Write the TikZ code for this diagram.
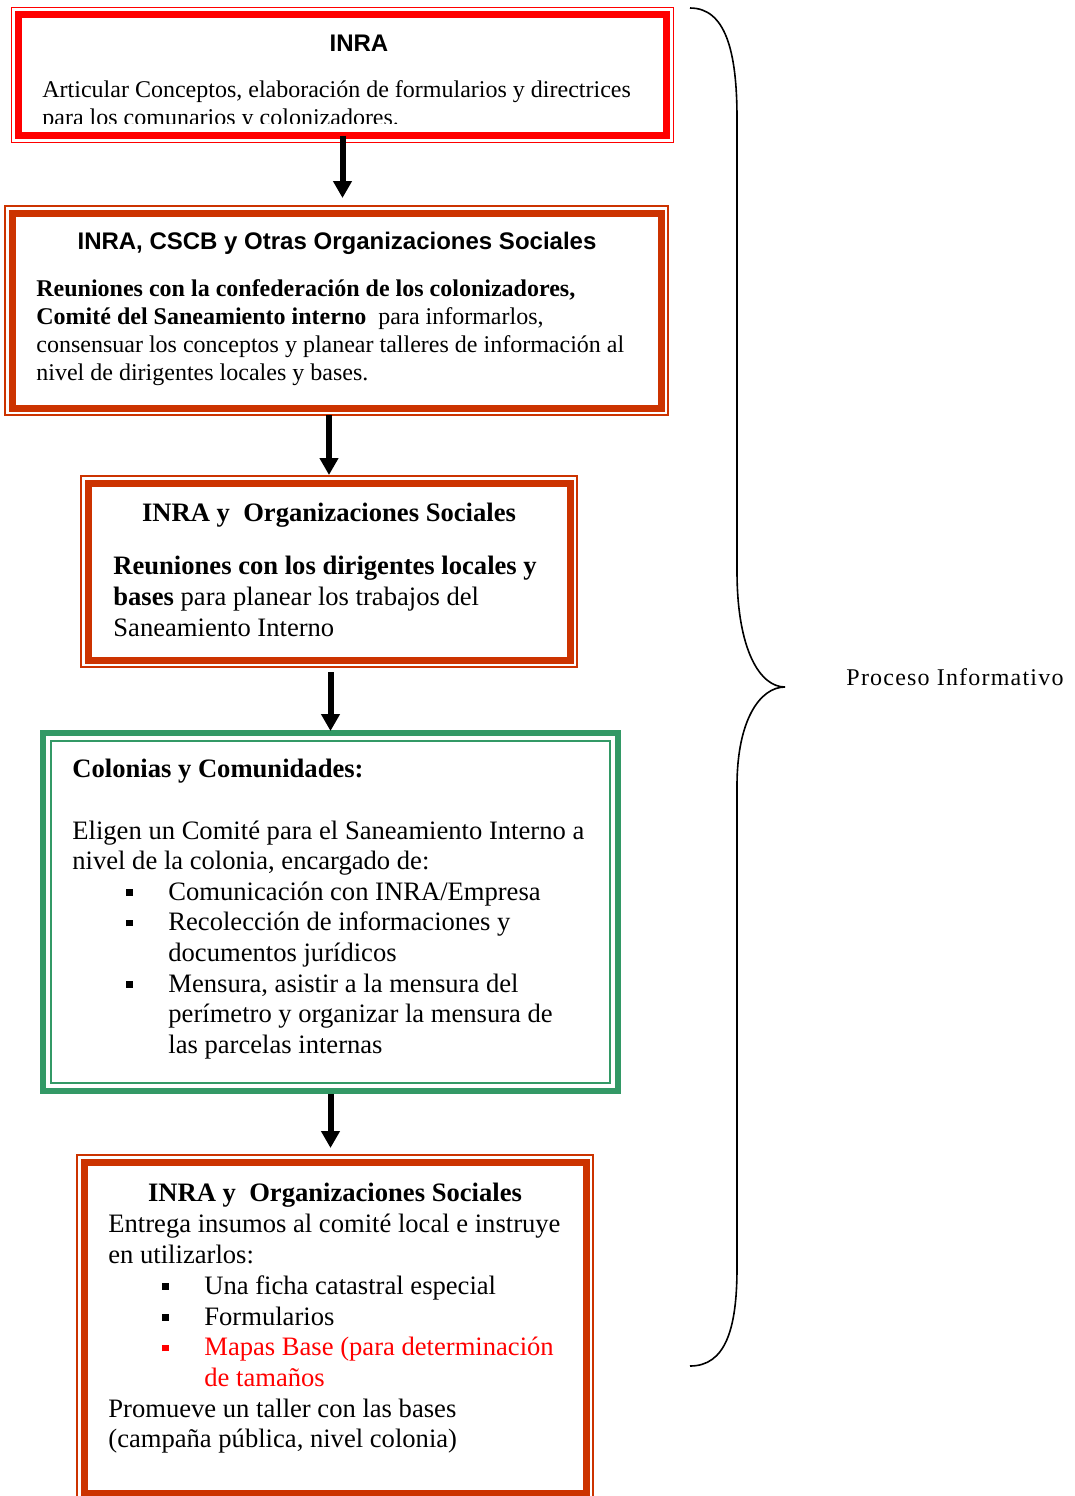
\documentclass[tikz,border=0pt]{standalone}
\usepackage{fontspec}
\setmainfont{Liberation Serif}
\setsansfont{Liberation Sans}
\usetikzlibrary{arrows.meta}
\definecolor{inrared}{HTML}{FF0000}
\definecolor{orgred}{HTML}{CC3300}
\definecolor{seagreen}{HTML}{339966}
\newcommand{\sqbul}{\hspace*{27pt}\makebox[21pt][l]{\raisebox{2.2pt}{\rule{3.4pt}{3.4pt}}}}
\newcommand{\sqind}{\hspace*{48pt}}
\begin{document}
\begin{tikzpicture}[x=0.5pt,y=-0.5pt,
    boxframe/.style={rectangle, inner sep=0pt, outer sep=0pt, fill=white, draw=#1, line width=3.5pt,
      preaction={draw=#1, line width=7.75pt}, preaction={draw=white, line width=6.25pt}},
    greenframe/.style={rectangle, inner sep=0pt, outer sep=0pt, fill=white, draw=seagreen, line width=3.25pt},
    arr/.style={-{Triangle[width=9pt,length=8.5pt]}, line width=3pt},
    head/.style={inner sep=0pt, anchor=base, font=\sffamily\bfseries\fontsize{12}{14}\selectfont},
    bighead/.style={inner sep=0pt, anchor=base, font=\bfseries\fontsize{13.3}{15.4}\selectfont},
    txt/.style={inner sep=0pt, anchor=north west, align=left}]
    \useasboundingbox (0,0) rectangle (1075,1496);
    \node[boxframe=inrared, minimum width=324pt, minimum height=60.5pt, anchor=north west] (b1) at (18.5,14.5) {};
    \node[boxframe=orgred, minimum width=324.5pt, minimum height=97.5pt, anchor=north west] (b2) at (12,213) {};
    \node[boxframe=orgred, minimum width=241pt, minimum height=88.5pt, anchor=north west] (b3) at (88,483) {};
    \node[greenframe, minimum width=287.5pt, minimum height=179pt, anchor=north west] (b4) at (43,733) {};
    \draw[seagreen, line width=0.75pt] ([shift={(8,8)}]b4.north west) rectangle ([shift={(-8,-8)}]b4.south east);
    \node[boxframe=orgred, minimum width=251pt, minimum height=165.5pt, anchor=north west] (b5) at (84,1162) {};

    \node[head] (h1) at (359,51.5) {INRA};
    \begin{scope}
    \clip (22,18) rectangle (663,123);
    \node[txt, font=\fontsize{12}{14}\selectfont] (t1) at (42,80) {Articular Conceptos, elaboración de formularios y directrices\\
      para los comunarios y colonizadores.};
    \end{scope}

    \node[head] (h2) at (337,249.5) {INRA, CSCB y Otras Organizaciones Sociales};
    \node[txt, font=\fontsize{12}{14}\selectfont] (t2) at (36,279) {\textbf{Reuniones con la confederación de los colonizadores,}\\
      \textbf{Comité del Saneamiento interno}\ \ para informarlos,\\
      consensuar los conceptos y planear talleres de información al\\
      nivel de dirigentes locales y bases.};

    \node[bighead] (h3) at (329,521) {INRA y\ \ Organizaciones Sociales};
    \node[txt, font=\fontsize{13.3}{15.5}\selectfont] (t3) at (113,556) {\textbf{Reuniones con los dirigentes locales y}\\
      \textbf{bases} para planear los trabajos del\\
      Saneamiento Interno};

    \node[txt, font=\fontsize{13.3}{15.3}\selectfont] (t4) at (72,759) {\textbf{Colonias y Comunidades:}\\
      \mbox{}\\
      Eligen un Comité para el Saneamiento Interno a\\
      nivel de la colonia, encargado de:\\
      \sqbul Comunicación con INRA/Empresa\\
      \sqbul Recolección de informaciones y\\
      \sqind documentos jurídicos\\
      \sqbul Mensura, asistir a la mensura del\\
      \sqind perímetro y organizar la mensura de\\
      \sqind las parcelas internas};

    \node[bighead] (h5) at (335,1201) {INRA y\ \ Organizaciones Sociales};
    \node[txt, font=\fontsize{13.3}{15.35}\selectfont] (t5) at (108,1214) {Entrega insumos al comité local e instruye\\
      en utilizarlos:\\
      \sqbul Una ficha catastral especial\\
      \sqbul Formularios\\
      \textcolor{inrared}{\sqbul Mapas Base (para determinación}\\
      \textcolor{inrared}{\sqind de tamaños}\\
      Promueve un taller con las bases\\
      (campaña pública, nivel colonia)};

    \draw[arr, shorten >=7.5pt] (b1.south) -- (b1.south |- b2.north);
    \draw[arr, shorten <=3.5pt, shorten >=4pt] (b3.north |- b2.south) -- (b3.north);
    \draw[arr, shorten <=6pt, shorten >=1pt] (b4.north |- b3.south) -- (b4.north);
    \draw[arr, shorten <=1.5pt, shorten >=7pt] (b4.south) -- (b4.south |- b5.north);

    \draw[line width=0.8pt] (690,8) .. controls (725,8) and (737,50) .. (737,118) -- (737,571)
      .. controls (737,650) and (760,687) .. (785,687) .. controls (760,687) and (737,720) .. (737,786)
      -- (737,1268) .. controls (737,1330) and (725,1366) .. (690,1366);
    \node[inner sep=0pt, anchor=base, font=\fontsize{12}{14}\selectfont\addfontfeature{LetterSpace=5}] (lbl) at (955,685) {Proceso Informativo};
\end{tikzpicture}
\end{document}
